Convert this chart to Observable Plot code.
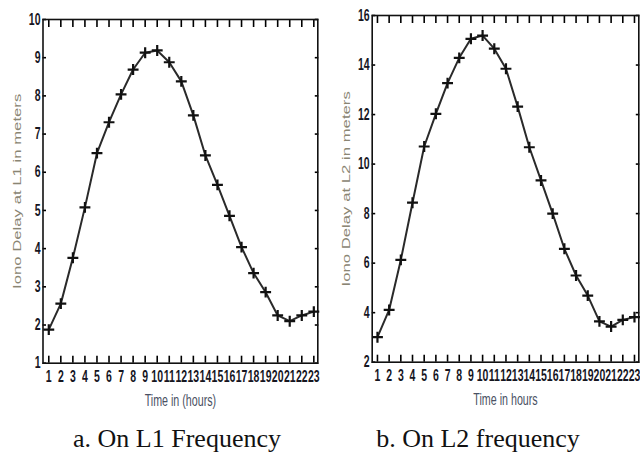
<!DOCTYPE html>
<html><head><meta charset="utf-8">
<script src="https://cdn.jsdelivr.net/npm/d3@7"></script>
<script src="https://cdn.jsdelivr.net/npm/@observablehq/plot@0.6"></script>
<style>
html,body{margin:0;padding:0;background:#fff;}
#wrap{position:relative;width:640px;height:453px;overflow:hidden;background:#fff;}
.panel{position:absolute;top:0;width:320px;}
.panel svg{display:block;}
.cap{position:absolute;top:426px;line-height:26px;font-family:"Liberation Serif","Times New Roman",serif;font-size:26px;color:#111;white-space:nowrap;transform:translateX(-50%);}
</style></head><body>
<div id="wrap"></div>
<script>
const hours = [1,2,3,4,5,6,7,8,9,10,11,12,13,14,15,16,17,18,19,20,21,22,23];
const delayL1 = [1.88,2.56,3.76,5.08,6.50,7.31,8.04,8.69,9.13,9.19,8.88,8.38,7.49,6.44,5.67,4.86,4.04,3.36,2.86,2.25,2.10,2.25,2.35];
const delayL2 = [3.01,4.11,6.13,8.44,10.71,12.03,13.27,14.29,15.06,15.19,14.66,13.85,12.32,10.68,9.34,8.00,6.58,5.50,4.69,3.65,3.44,3.71,3.82];
const yTicksL1 = [1,2,3,4,5,6,7,8,9,10];
const yTicksL2 = [2,4,6,8,10,12,14,16];
const xTitles = ["Time in (hours)", "Time in hours"];
const yTitles = ["Iono Delay at L1 in meters", "Iono Delay at L2 in meters"];
const captions = ["a. On L1 Frequency", "b. On L2 frequency"];

const K = 1.55; // vertical stretch of the source figure's text
const W = 320, H = 415;

function panel(values, yDomain, yTicks, xDomain, m, xTitle, yTitle) {
  const data = hours.map((h, i) => ({hour: h, delay: values[i]}));
  const svg = Plot.plot({
    width: W, height: H,
    marginTop: m[0], marginRight: m[1], marginBottom: m[2], marginLeft: m[3],
    style: {fontFamily: "'Liberation Sans', Arial, sans-serif", background: "white", overflow: "visible"},
    x: {domain: xDomain},
    y: {domain: yDomain},
    marks: [
      Plot.axisX(hours, {anchor: "bottom", tickSize: 0, tickPadding: 7, fontSize: 10.5, fontWeight: "bold", color: "#16161f",
        label: xTitle, labelAnchor: "center", labelArrow: "none", labelOffset: 43}),
      Plot.axisY(yTicks, {anchor: "left", tickSize: 0, tickPadding: 2.5, fontSize: 10.5, fontWeight: "bold", color: "#16161f",
        label: yTitle, labelAnchor: "center", labelArrow: "none", labelOffset: 30}),
      // inward ticks on all four sides (MATLAB box style)
      Plot.axisX(hours, {anchor: "bottom", tickSize: -7, tickFormat: () => "", label: null, stroke: "#000", strokeWidth: 1.6}),
      Plot.axisX(hours, {anchor: "top", tickSize: -7, tickFormat: () => "", label: null, stroke: "#000", strokeWidth: 1.6}),
      Plot.axisY(yTicks, {anchor: "left", tickSize: -3.5, tickFormat: () => "", label: null, stroke: "#000", strokeWidth: 1.6}),
      Plot.axisY(yTicks, {anchor: "right", tickSize: -3.5, tickFormat: () => "", label: null, stroke: "#000", strokeWidth: 1.6}),
      Plot.frame({stroke: "#111", strokeWidth: 1.6}),
      Plot.line(data, {x: "hour", y: "delay", stroke: "#2a2a2a", strokeWidth: 2}),
      Plot.dot(data, {x: "hour", y: "delay", symbol: "plus", r: 3.6, stroke: "#111", strokeWidth: 2.2})
    ]
  });
  svg.querySelectorAll('g[aria-label="x-axis tick label"] text, g[aria-label="y-axis tick label"] text').forEach(t => {
    t.setAttribute("transform", (t.getAttribute("transform") || "") + ` scale(1,${K})`);
  });
  svg.querySelectorAll('g[aria-label="x-axis label"]').forEach(g => {
    g.setAttribute("fill", "#4a5163"); g.setAttribute("font-weight", "normal"); g.setAttribute("font-size", "10.7");
    g.querySelectorAll("text").forEach(t => t.setAttribute("transform", (t.getAttribute("transform") || "") + ` scale(1,${K})`));
  });
  svg.querySelectorAll('g[aria-label="y-axis label"]').forEach(g => {
    g.setAttribute("fill", "#8a8573"); g.setAttribute("font-weight", "normal"); g.setAttribute("font-size", "10.8");
    g.querySelectorAll("text").forEach(t => t.setAttribute("transform", (t.getAttribute("transform") || "") + ` scale(${K},1)`));
  });
  return svg;
}

const wrap = document.getElementById("wrap");
const specs = [
  {values: delayL1, yDomain: [1, 10], yTicks: yTicksL1, xDomain: [0.52, 23.33], m: [19, 2.7, 52.3, 42.5], left: 0, capX: 177},
  {values: delayL2, yDomain: [2, 16], yTicks: yTicksL2, xDomain: [0.55, 23.37], m: [15, 1.7, 53.3, 51.7], left: 320, capX: 478}
];
specs.forEach((s, i) => {
  const div = document.createElement("div");
  div.className = "panel";
  div.style.left = s.left + "px";
  div.appendChild(panel(s.values, s.yDomain, s.yTicks, s.xDomain, s.m, xTitles[i], yTitles[i]));
  wrap.appendChild(div);
  const cap = document.createElement("div");
  cap.className = "cap";
  cap.style.left = s.capX + "px";
  cap.textContent = captions[i];
  wrap.appendChild(cap);
});
</script>
</body></html>
